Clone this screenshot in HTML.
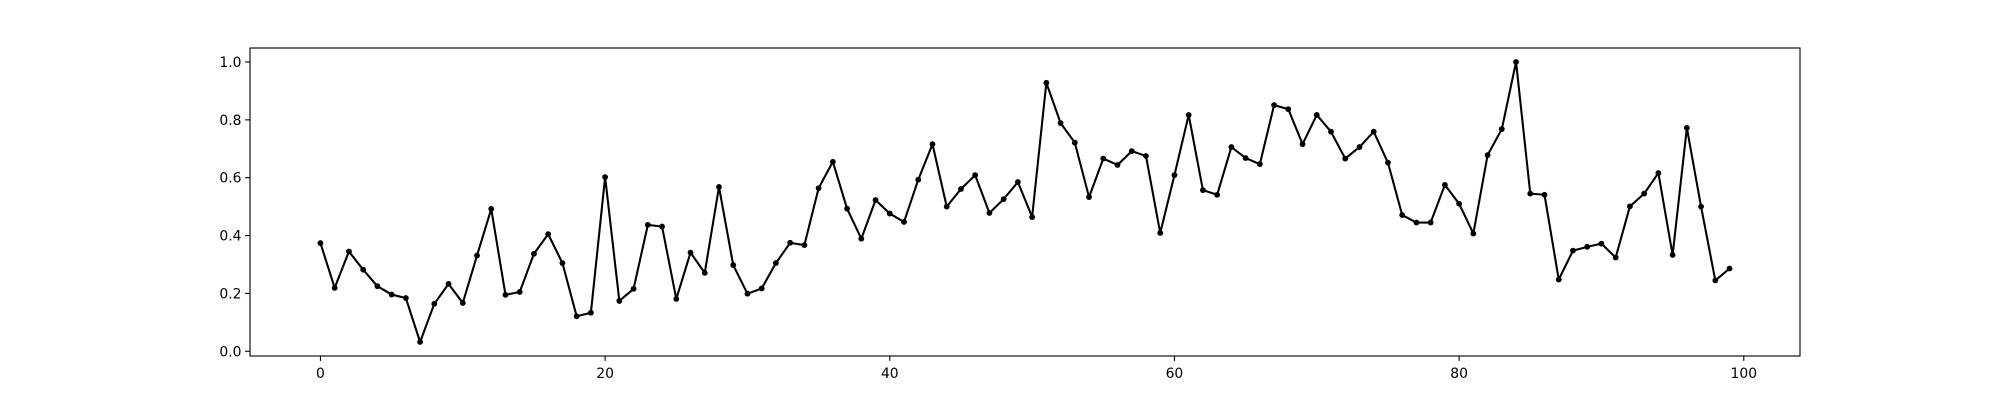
<!DOCTYPE html>
<html><head><meta charset="utf-8"><style>
html,body{margin:0;padding:0;background:#fff;}
svg{display:block;font-family:"DejaVu Sans","Liberation Sans",sans-serif;}
</style></head><body>
<svg id="chart" width="2000" height="400" viewBox="0 0 2000 400" xmlns="http://www.w3.org/2000/svg">
<rect x="0" y="0" width="2000" height="400" fill="#fff"/>
<g id="grid"></g>
</svg>
<script>
const values = [0.374,0.219,0.345,0.282,0.225,0.196,0.184,0.032,0.164,0.233,
0.167,0.331,0.492,0.195,0.205,0.337,0.405,0.305,0.121,0.133,
0.602,0.174,0.216,0.437,0.431,0.181,0.341,0.271,0.568,0.298,
0.199,0.217,0.305,0.375,0.367,0.564,0.655,0.493,0.389,0.523,
0.476,0.447,0.593,0.716,0.500,0.561,0.609,0.478,0.526,0.585,
0.464,0.928,0.789,0.721,0.533,0.666,0.644,0.692,0.675,0.409,
0.609,0.817,0.557,0.541,0.706,0.668,0.647,0.851,0.837,0.716,
0.817,0.759,0.666,0.706,0.759,0.652,0.471,0.445,0.445,0.575,
0.510,0.407,0.678,0.768,1.000,0.545,0.541,0.248,0.348,0.361,
0.372,0.324,0.501,0.545,0.616,0.333,0.772,0.500,0.245,0.286];
const xTicks = [0,20,40,60,80,100];
const xTickLabels = ["0","20","40","60","80","100"];
const yTicks = [0,0.2,0.4,0.6,0.8,1.0];
const yTickLabels = ["0.0","0.2","0.4","0.6","0.8","1.0"];

const NS="http://www.w3.org/2000/svg";
const svg=document.getElementById('chart');
const L=250,R=1800,T=48,B=356;
const n=values.length;
const xmin=-0.05*(n-1), xmax=(n-1)*1.05;
const vmin=Math.min(...values), vmax=Math.max(...values), vr=vmax-vmin;
const ymin=vmin-0.05*vr, ymax=vmax+0.05*vr;
function sx(i){return L+(i-xmin)/(xmax-xmin)*(R-L);}
function sy(v){return B-(v-ymin)/(ymax-ymin)*(B-T);}
function mk(tag,attrs){const e=document.createElementNS(NS,tag);for(const k in attrs)e.setAttribute(k,attrs[k]);svg.appendChild(e);return e;}

let d="";
values.forEach((v,i)=>{d+=(i?"L":"M")+sx(i).toFixed(2)+","+sy(v).toFixed(2);});
const line=mk('path',{d:d,fill:'none',stroke:'#000','stroke-width':2.08,'stroke-linejoin':'round','stroke-linecap':'square'});


values.forEach((v,i)=>{
  const c=mk('circle',{cx:sx(i),cy:sy(v),r:2.9,fill:'#000'});
  
  
});
const frame=mk('rect',{x:L,y:T,width:R-L,height:B-T,fill:'none',stroke:'#000','stroke-width':1.1});


xTicks.forEach((t,k)=>{
  const x=sx(t);
  const tk=mk('line',{x1:x,x2:x,y1:B,y2:B+4.9,stroke:'#000','stroke-width':1.1});
  
  
  const tx=mk('text',{x:x,y:B+22,'text-anchor':'middle','font-size':13.9,fill:'#000'});
  tx.textContent=xTickLabels[k];
  
  
});
yTicks.forEach((t,k)=>{
  const y=sy(t);
  const tk=mk('line',{x1:L-4.9,x2:L,y1:y,y2:y,stroke:'#000','stroke-width':1.1});
  
  
  const tx=mk('text',{x:L-8.5,y:y+5,'text-anchor':'end','font-size':13.9,fill:'#000'});
  tx.textContent=yTickLabels[k];
  
  
});
</script>
</body></html>
